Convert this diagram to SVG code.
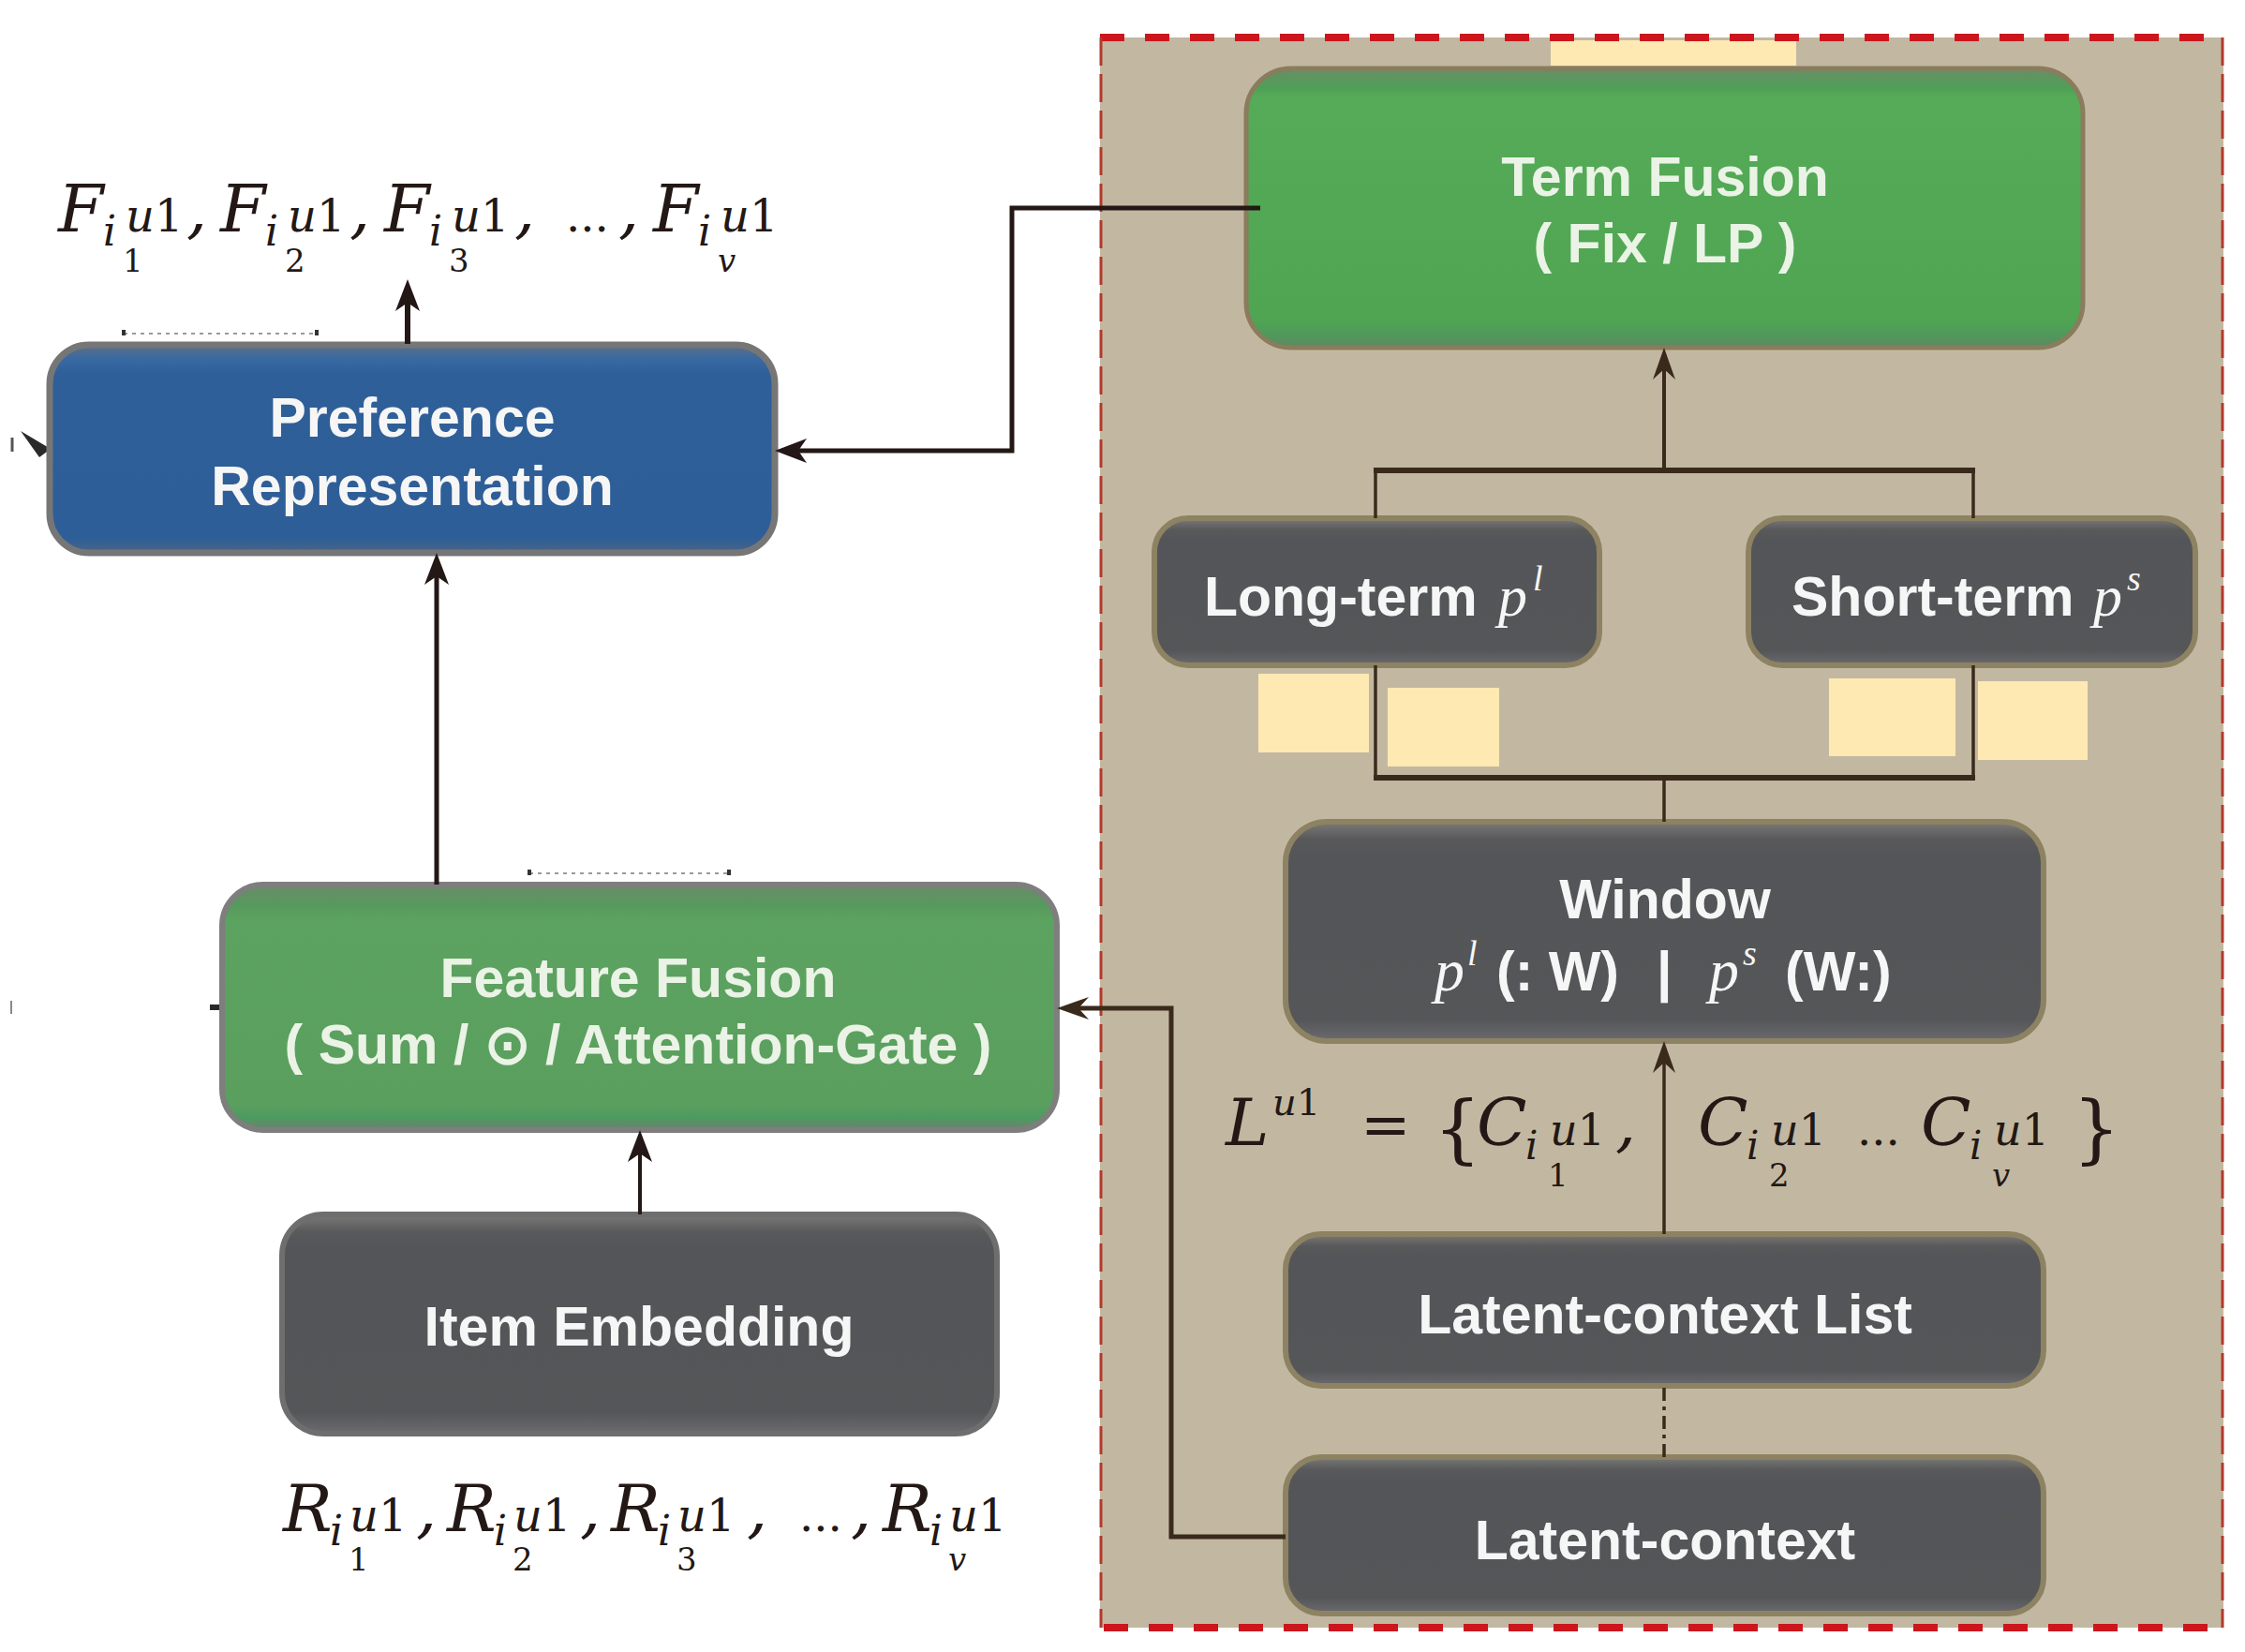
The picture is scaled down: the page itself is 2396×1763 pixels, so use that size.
<svg xmlns="http://www.w3.org/2000/svg" width="2396" height="1763" viewBox="0 0 2396 1763">
<style>
.lbl{font-family:"Liberation Sans",Arial,sans-serif;font-weight:bold;font-size:59px;fill:#f6f6f6;text-anchor:middle}
.lbs{font-family:"Liberation Sans",Arial,sans-serif;font-weight:bold;font-size:59px;fill:#f6f6f6}
.lg{fill:#eaf3e6}
.pi{font-family:"Liberation Serif","Times New Roman",serif;font-style:italic;fill:#f6f6f6}
.m{font-family:"DejaVu Serif",serif;font-style:italic;fill:#231815}
.up{font-style:normal}
.con{fill:none;stroke:#231815;stroke-linejoin:miter}
.conb{fill:none;stroke:#3a2a1c}
.yel{fill:#fee9b2}
.bx-tan{stroke:#8d8262;stroke-width:6}
</style>
<defs>
<linearGradient id="gBlue" x1="0" y1="0" x2="0" y2="1">
<stop offset="0" stop-color="#5d6f86"/><stop offset="0.07" stop-color="#3769a2"/><stop offset="0.14" stop-color="#2f5f98"/><stop offset="0.93" stop-color="#2e5e97"/><stop offset="1" stop-color="#4a6585"/>
</linearGradient>
<linearGradient id="gGreenT" x1="0" y1="0" x2="0" y2="1">
<stop offset="0" stop-color="#6a8c66"/><stop offset="0.07" stop-color="#4f9f58"/><stop offset="0.1" stop-color="#55ab57"/><stop offset="0.9" stop-color="#4fa552"/><stop offset="0.95" stop-color="#4f9a5a"/><stop offset="1" stop-color="#5f8762"/>
</linearGradient>
<linearGradient id="gGreenF" x1="0" y1="0" x2="0" y2="1">
<stop offset="0" stop-color="#6b8a6b"/><stop offset="0.08" stop-color="#57995d"/><stop offset="0.14" stop-color="#5ca260"/><stop offset="0.9" stop-color="#5a9f5e"/><stop offset="0.95" stop-color="#4d9a60"/><stop offset="1" stop-color="#6f7f70"/>
</linearGradient>
<linearGradient id="gDark" x1="0" y1="0" x2="0" y2="1">
<stop offset="0" stop-color="#7a7a78"/><stop offset="0.08" stop-color="#59595b"/><stop offset="0.15" stop-color="#545558"/><stop offset="0.9" stop-color="#555658"/><stop offset="1" stop-color="#6b6b70"/>
</linearGradient>
<marker id="ah" viewBox="-36 -15 38 30" markerWidth="38" markerHeight="30" refX="-22" refY="0" orient="auto" markerUnits="userSpaceOnUse">
<path d="M0,0 L-34,-13 L-25,0 L-34,13 Z" fill="#231815"/>
</marker>
<marker id="ahs" viewBox="-36 -15 38 30" markerWidth="38" markerHeight="30" refX="-22" refY="0" orient="auto" markerUnits="userSpaceOnUse">
<path d="M0,0 L-34,-12 L-23,0 L-34,12 Z" fill="#3a2a1c"/>
</marker>
</defs>

<rect width="2396" height="1763" fill="#ffffff"/>

<g id="module-frame">
<rect x="1174" y="40" width="1199" height="1697" fill="#c2b8a2"/>
<rect class="yel" x="1655" y="43" width="262" height="27"/>
<line x1="1174" y1="40" x2="2373" y2="40" stroke="#cc161d" stroke-width="8" stroke-dasharray="26 22"/>
<line x1="1178" y1="1737" x2="2373" y2="1737" stroke="#cc161d" stroke-width="8" stroke-dasharray="26 22"/>
<line x1="1175" y1="40" x2="1175" y2="1737" stroke="#b23a2a" stroke-width="3" stroke-dasharray="30 9"/>
<line x1="2372" y1="40" x2="2372" y2="1737" stroke="#b23a2a" stroke-width="3" stroke-dasharray="30 9"/>
</g>

<g id="marks" fill="none">
<line x1="132" y1="356" x2="340" y2="356" stroke="#9a9a9a" stroke-width="2" stroke-dasharray="4 5"/>
<rect x="130" y="352" width="4" height="6" fill="#333"/><rect x="336" y="352" width="4" height="6" fill="#333"/>
<line x1="565" y1="932" x2="780" y2="932" stroke="#9a9a9a" stroke-width="2" stroke-dasharray="4 5"/>
<rect x="563" y="928" width="4" height="6" fill="#333"/><rect x="776" y="928" width="4" height="6" fill="#333"/>
<polygon points="22,460 54,479 42,488" fill="#2a2a2a"/>
<line x1="13" y1="467" x2="13" y2="482" stroke="#555" stroke-width="3"/>
<line x1="224" y1="1075" x2="238" y2="1075" stroke="#2a2a2a" stroke-width="6"/>
<line x1="12" y1="1068" x2="12" y2="1082" stroke="#888" stroke-width="2"/>
</g>

<g id="node-preference">
<rect x="53" y="368" width="774" height="222" rx="42" fill="url(#gBlue)" stroke="#767676" stroke-width="7"/>
<text class="lbl" x="440" y="466">Preference</text>
<text class="lbl" x="440" y="539">Representation</text>
</g>

<g id="node-feature-fusion">
<rect x="237" y="944" width="891" height="262" rx="44" fill="url(#gGreenF)" stroke="#7e7e7e" stroke-width="6"/>
<text class="lbl lg" x="681" y="1064">Feature Fusion</text>
<text class="lbl lg" x="681" y="1135">( Sum / ⊙ / Attention-Gate )</text>
</g>

<g id="node-item-embedding">
<rect x="301" y="1296" width="763" height="234" rx="44" fill="url(#gDark)" stroke="#6e6e6e" stroke-width="6"/>
<text class="lbl" x="682" y="1436">Item Embedding</text>
</g>

<g id="node-term-fusion">
<rect x="1330" y="73" width="893" height="298" rx="48" fill="url(#gGreenT)" stroke="#8a7c5c" stroke-width="5"/>
<text class="lbl lg" x="1777" y="209">Term Fusion</text>
<text class="lbl lg" x="1777" y="280">( Fix / LP )</text>
</g>

<g id="node-long-term">
<rect class="bx-tan" x="1232" y="553" width="475" height="157" rx="36" fill="url(#gDark)"/>
<text class="lbs" x="1285" y="657">Long-term</text>
<text class="pi" font-size="62" x="1599" y="657">p</text>
<text class="pi" font-size="38" x="1636" y="630">l</text>
</g>

<g id="node-short-term">
<rect class="bx-tan" x="1866" y="553" width="477" height="157" rx="36" fill="url(#gDark)"/>
<text class="lbs" x="1912" y="657">Short-term</text>
<text class="pi" font-size="62" x="2234" y="657">p</text>
<text class="pi" font-size="38" x="2270" y="630">s</text>
</g>

<g id="node-window">
<rect class="bx-tan" x="1372" y="877" width="809" height="234" rx="44" fill="url(#gDark)"/>
<text class="lbl" x="1777" y="980">Window</text>
<text class="pi" font-size="64" x="1531" y="1057">p</text>
<text class="pi" font-size="38" x="1566" y="1030">l</text>
<text class="lbs" font-size="59" x="1597" y="1057">(: W)</text>
<text class="lbs" font-size="59" x="1768" y="1057">|</text>
<text class="pi" font-size="64" x="1824" y="1057">p</text>
<text class="pi" font-size="38" x="1860" y="1030">s</text>
<text class="lbs" font-size="59" x="1905" y="1057">(W:)</text>
</g>

<g id="node-latent-list">
<rect class="bx-tan" x="1372" y="1317" width="809" height="162" rx="38" fill="url(#gDark)"/>
<text class="lbl" x="1777" y="1423">Latent-context List</text>
</g>

<g id="node-latent-context">
<rect class="bx-tan" x="1372" y="1555" width="809" height="167" rx="38" fill="url(#gDark)"/>
<text class="lbl" x="1777" y="1664">Latent-context</text>
</g>

<g id="yellow-patches">
<rect class="yel" x="1343" y="719" width="118" height="84"/>
<rect class="yel" x="1481" y="734" width="119" height="84"/>
<rect class="yel" x="1952" y="724" width="135" height="83"/>
<rect class="yel" x="2111" y="727" width="117" height="84"/>
</g>

<g id="connectors">
<path class="con" d="M435 367 V320" stroke-width="6" marker-end="url(#ah)"/>
<path class="con" d="M466 944 V612" stroke-width="5" marker-end="url(#ah)"/>
<path class="con" d="M1345 222 H1080 V481 H849" stroke-width="5" marker-end="url(#ah)"/>
<path class="con" d="M683 1296 V1228" stroke-width="4" marker-end="url(#ah)"/>
<path class="conb" d="M1372 1640 H1250 V1076 H1150" stroke-width="5" marker-end="url(#ahs)"/>
<path class="conb" d="M1776 501 V393" stroke-width="4" marker-end="url(#ahs)"/>
<path class="conb" d="M1468 553 V502 M2106 553 V502" stroke-width="3.5"/>
<path class="conb" d="M1466 502 H2108" stroke-width="6"/>
<path class="conb" d="M1468 710 V830 M2106 710 V830" stroke-width="3.5"/>
<path class="conb" d="M1466 830 H2108" stroke-width="6"/>
<path class="conb" d="M1776 830 V877" stroke-width="3.5"/>
<path class="conb" d="M1776 1317 V1133" stroke-width="3.5" marker-end="url(#ahs)"/>
<path class="conb" d="M1776 1555 V1479" stroke-width="3.5" stroke-dasharray="14 6 4 6"/>
</g>

<g id="label-F">
<text class="m" font-size="70">
<tspan x="62" y="247">F</tspan><tspan x="110" y="262" font-size="44">i</tspan><tspan x="134" y="247" font-size="48">u<tspan class="up">1</tspan></tspan><tspan x="131" y="290" font-size="34" class="up">1</tspan><tspan x="199" y="247">,</tspan>
<tspan x="235" y="247">F</tspan><tspan x="283" y="262" font-size="44">i</tspan><tspan x="307" y="247" font-size="48">u<tspan class="up">1</tspan></tspan><tspan x="304" y="290" font-size="34" class="up">2</tspan><tspan x="373" y="247">,</tspan>
<tspan x="410" y="247">F</tspan><tspan x="458" y="262" font-size="44">i</tspan><tspan x="482" y="247" font-size="48">u<tspan class="up">1</tspan></tspan><tspan x="479" y="290" font-size="34" class="up">3</tspan><tspan x="549" y="247">,</tspan>
<tspan x="604" y="247" font-size="48" class="up">...</tspan><tspan x="660" y="247">,</tspan>
<tspan x="697" y="247">F</tspan><tspan x="745" y="262" font-size="44">i</tspan><tspan x="769" y="247" font-size="48">u<tspan class="up">1</tspan></tspan><tspan x="766" y="290" font-size="34">v</tspan>
</text>
</g>

<g id="label-R">
<text class="m" font-size="70">
<tspan x="302" y="1634">R</tspan><tspan x="352" y="1649" font-size="44">i</tspan><tspan x="373" y="1634" font-size="48">u<tspan class="up">1</tspan></tspan><tspan x="372" y="1676" font-size="34" class="up">1</tspan><tspan x="444" y="1634">,</tspan>
<tspan x="477" y="1634">R</tspan><tspan x="527" y="1649" font-size="44">i</tspan><tspan x="548" y="1634" font-size="48">u<tspan class="up">1</tspan></tspan><tspan x="547" y="1676" font-size="34" class="up">2</tspan><tspan x="619" y="1634">,</tspan>
<tspan x="652" y="1634">R</tspan><tspan x="702" y="1649" font-size="44">i</tspan><tspan x="723" y="1634" font-size="48">u<tspan class="up">1</tspan></tspan><tspan x="722" y="1676" font-size="34" class="up">3</tspan><tspan x="797" y="1634">,</tspan>
<tspan x="853" y="1634" font-size="48" class="up">...</tspan><tspan x="908" y="1634">,</tspan>
<tspan x="942" y="1634">R</tspan><tspan x="992" y="1649" font-size="44">i</tspan><tspan x="1013" y="1634" font-size="48">u<tspan class="up">1</tspan></tspan><tspan x="1012" y="1676" font-size="34">v</tspan>
</text>
</g>

<g id="label-L">
<text class="m" font-size="70">
<tspan x="1308" y="1222">L</tspan><tspan x="1358" y="1190" font-size="40">u<tspan class="up">1</tspan></tspan>
<tspan x="1452" y="1222" class="up" font-size="64">=</tspan>
<tspan x="1530" y="1232" class="up" font-size="80">{</tspan>
<tspan x="1576" y="1222">C</tspan><tspan x="1628" y="1237" font-size="42">i</tspan><tspan x="1654" y="1222" font-size="46">u<tspan class="up">1</tspan></tspan><tspan x="1652" y="1266" font-size="34" class="up">1</tspan><tspan x="1724" y="1222">,</tspan>
<tspan x="1812" y="1222">C</tspan><tspan x="1864" y="1237" font-size="42">i</tspan><tspan x="1890" y="1222" font-size="46">u<tspan class="up">1</tspan></tspan><tspan x="1888" y="1266" font-size="34" class="up">2</tspan>
<tspan x="1982" y="1222" font-size="48" class="up">...</tspan>
<tspan x="2050" y="1222">C</tspan><tspan x="2102" y="1237" font-size="42">i</tspan><tspan x="2128" y="1222" font-size="46">u<tspan class="up">1</tspan></tspan><tspan x="2126" y="1266" font-size="34">v</tspan>
<tspan x="2212" y="1232" class="up" font-size="80">}</tspan>
</text>
</g>
</svg>
